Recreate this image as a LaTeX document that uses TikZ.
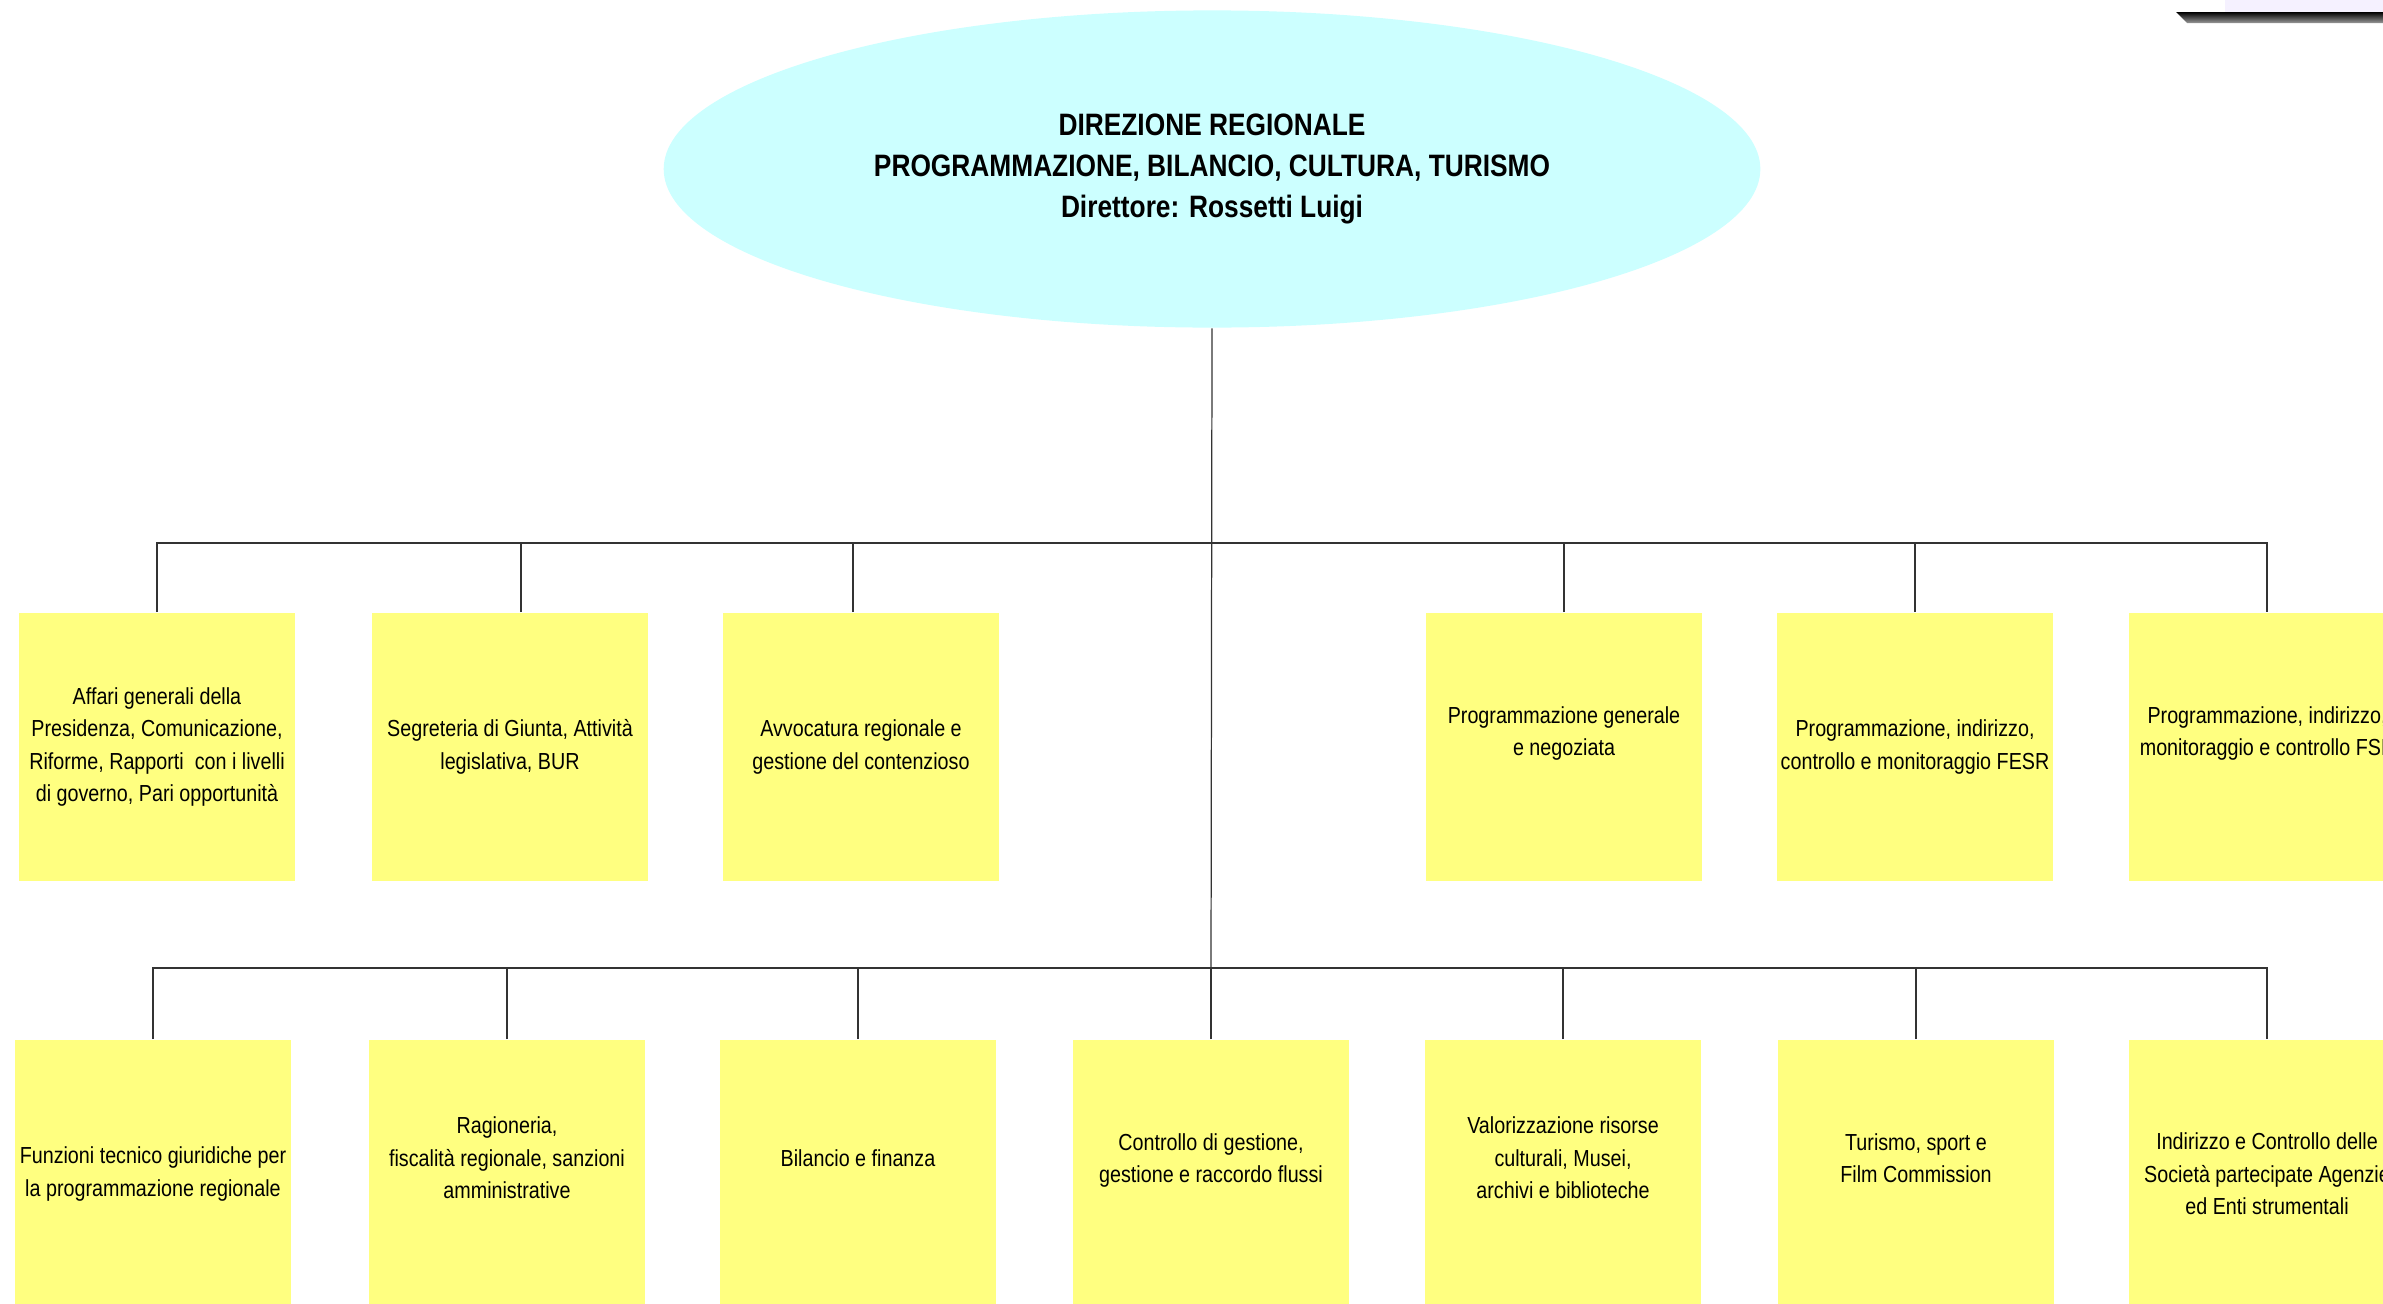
\documentclass[tikz,border=0pt]{standalone}
\usepackage{fontspec}
\setmainfont{Liberation Sans}[FakeStretch=0.85]
\usepackage{xcolor}
\usepackage{tikz}
\usetikzlibrary{shapes.geometric,calc,positioning}
\definecolor{headcyan}{RGB}{204,255,255}
\definecolor{unityellow}{RGB}{255,255,128}
\definecolor{edgelavender}{RGB}{245,241,255}

\begin{document}
\begin{tikzpicture}[
    x=0.01cm, y=-0.01cm,
    head/.style={ellipse, fill=headcyan, minimum width=10.96cm, minimum height=3.17cm, inner sep=0pt, align=center, font=\bfseries\fontsize{8.8}{11.6}\selectfont},
    unit/.style={rectangle, fill=unityellow, minimum width=2.75cm, minimum height=2.68cm, inner sep=0pt, align=center, font=\fontsize{6.6}{9.2}\selectfont},
    link/.style={draw=black!80, line width=0.35pt}
]
\clip (0,0) rectangle (2383,1303);
\fill[white] (0,0) rectangle (2383,1303);
\fill[edgelavender] (2225,0) rectangle (2383,12);
\shade[top color=black, bottom color=black!40] (2176,12) -- (2383,12) -- (2383,23) -- (2187,23) -- cycle;

\node[head] (dir) at (1212,169) {DIREZIONE REGIONALE\\PROGRAMMAZIONE, BILANCIO, CULTURA, TURISMO\\Direttore: Rossetti Luigi};

\node[unit] (affari) at (157,747) {Affari generali della\\Presidenza, Comunicazione,\\Riforme, Rapporti~ con i livelli\\di governo, Pari opportunità};
\node[unit] (giunta) at (510,747) {Segreteria di Giunta, Attività\\legislativa, BUR};
\node[unit] (avvocatura) at (861,747) {Avvocatura regionale e\\gestione del contenzioso};
\node[unit] (generale) at (1564,747) {Programmazione generale\\e negoziata\\~};
\node[unit] (fesr) at (1915,747) {Programmazione, indirizzo,\\controllo e monitoraggio FESR};
\node[unit] (fse) at (2267,747) {Programmazione, indirizzo,\\monitoraggio e controllo FSE\\~};

\node[unit] (funzioni) at (153,1174) {Funzioni tecnico giuridiche per\\la programmazione regionale};
\node[unit] (ragioneria) at (507,1174) {Ragioneria,\\fiscalità regionale, sanzioni\\amministrative\\~};
\node[unit] (bilancio) at (858,1174) {Bilancio e finanza\\~};
\node[unit] (controllo) at (1211,1174) {Controllo di gestione,\\gestione e raccordo flussi\\~};
\node[unit] (valorizzazione) at (1563,1174) {Valorizzazione risorse\\culturali, Musei,\\archivi e biblioteche\\~};
\node[unit] (turismo) at (1916,1174) {Turismo, sport e\\Film Commission\\~};
\node[unit] (societa) at (2267,1174) {Indirizzo e Controllo delle\\Società partecipate Agenzie\\ed Enti strumentali};

\coordinate (upper) at (1211,543);
\coordinate (lower) at (1211,968);

\draw[link] (dir.south) -- (lower);
\draw[link] (affari.north) |- (upper) -| (fse.north);
\draw[link] ($(giunta.north)+(11,0)$) -- ($(giunta.north |- upper)+(11,0)$);
\draw[link] ($(avvocatura.north)+(-8,0)$) -- ($(avvocatura.north |- upper)+(-8,0)$);
\foreach \u in {generale, fesr}
    \draw[link] (\u.north) -- (\u.north |- upper);
\draw[link] (funzioni.north) |- (lower) -| (societa.north);
\foreach \u in {ragioneria, bilancio, controllo, valorizzazione, turismo}
    \draw[link] (\u.north) -- (\u.north |- lower);
\end{tikzpicture}
\end{document}
